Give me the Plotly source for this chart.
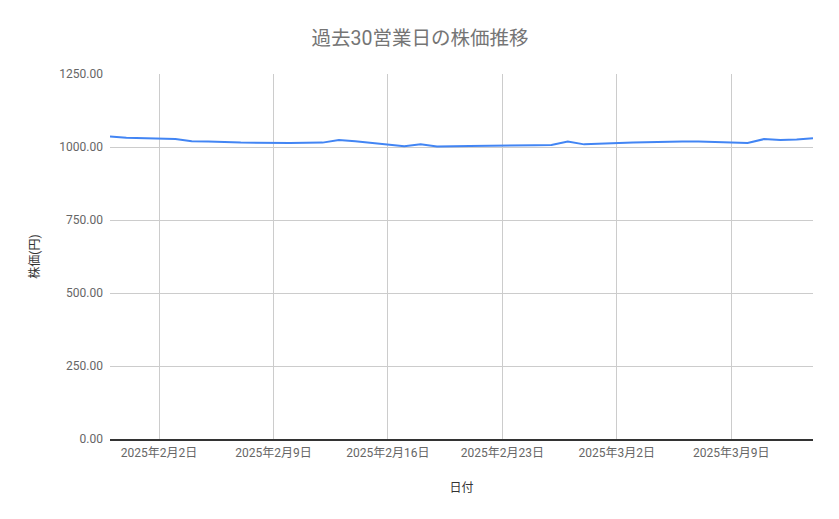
import pandas as pd
import plotly.graph_objects as go

# 過去30営業日（土日・祝日を除く）
dates = [
    "2025-01-30", "2025-01-31",
    "2025-02-03", "2025-02-04", "2025-02-05", "2025-02-06", "2025-02-07",
    "2025-02-10", "2025-02-12", "2025-02-13", "2025-02-14",
    "2025-02-17", "2025-02-18", "2025-02-19", "2025-02-20", "2025-02-21",
    "2025-02-25", "2025-02-26", "2025-02-27", "2025-02-28",
    "2025-03-03", "2025-03-04", "2025-03-05", "2025-03-06", "2025-03-07",
    "2025-03-10", "2025-03-11", "2025-03-12", "2025-03-13", "2025-03-14",
]
prices = [
    1036, 1032,
    1027, 1020, 1019, 1017, 1015,
    1014, 1015, 1024, 1020,
    1003, 1009, 1002, 1002, 1003,
    1006, 1007, 1019, 1009,
    1015, 1017, 1017, 1019, 1019,
    1014, 1027, 1024, 1026, 1030,
]
tick_dates = ["2025-02-02", "2025-02-09", "2025-02-16", "2025-02-23", "2025-03-02", "2025-03-09"]
tick_labels = ["2025年2月2日", "2025年2月9日", "2025年2月16日", "2025年2月23日", "2025年3月2日", "2025年3月9日"]
y_ticks = [0, 250, 500, 750, 1000, 1250]

df = pd.DataFrame({"日付": pd.to_datetime(dates), "株価": prices})

font_family = "Roboto, 'Noto Sans CJK JP', sans-serif"

fig = go.Figure()
fig.add_trace(go.Scatter(
    x=df["日付"],
    y=df["株価"],
    mode="lines",
    line=dict(color="#4285F4", width=2),
    showlegend=False,
))

fig.update_layout(
    width=839,
    height=519,
    margin=dict(l=102, r=34, t=66, b=88),
    paper_bgcolor="white",
    plot_bgcolor="white",
    font=dict(family=font_family, color="#666666", size=12),
    title=dict(
        text="過去30営業日の株価推移",
        x=0.491, xanchor="center",
        y=0.942, yanchor="middle",
        font=dict(size=19.5, color="#757575"),
    ),
    xaxis=dict(
        range=["2025-01-30", "2025-03-14"],
        tickvals=pd.to_datetime(tick_dates),
        ticktext=tick_labels,
        showgrid=True,
        gridcolor="#cccccc",
        gridwidth=1,
        showline=True,
        linecolor="#333333",
        linewidth=1.5,
        ticks="",
        ticklabelstandoff=2,
        tickfont=dict(size=12, color="#666666"),
        title=dict(text="日付", font=dict(size=12, color="#333333"), standoff=24),
        zeroline=False,
    ),
    yaxis=dict(
        range=[0, 1250],
        tickvals=y_ticks,
        tickformat=".2f",
        showgrid=True,
        gridcolor="#cccccc",
        gridwidth=1,
        zeroline=False,
        ticks="",
        ticklabelstandoff=6,
        tickfont=dict(size=12, color="#666666"),
        title=dict(text="株価(円)", font=dict(size=12, color="#333333"), standoff=17),
    ),
)

fig.write_html("out.html")
